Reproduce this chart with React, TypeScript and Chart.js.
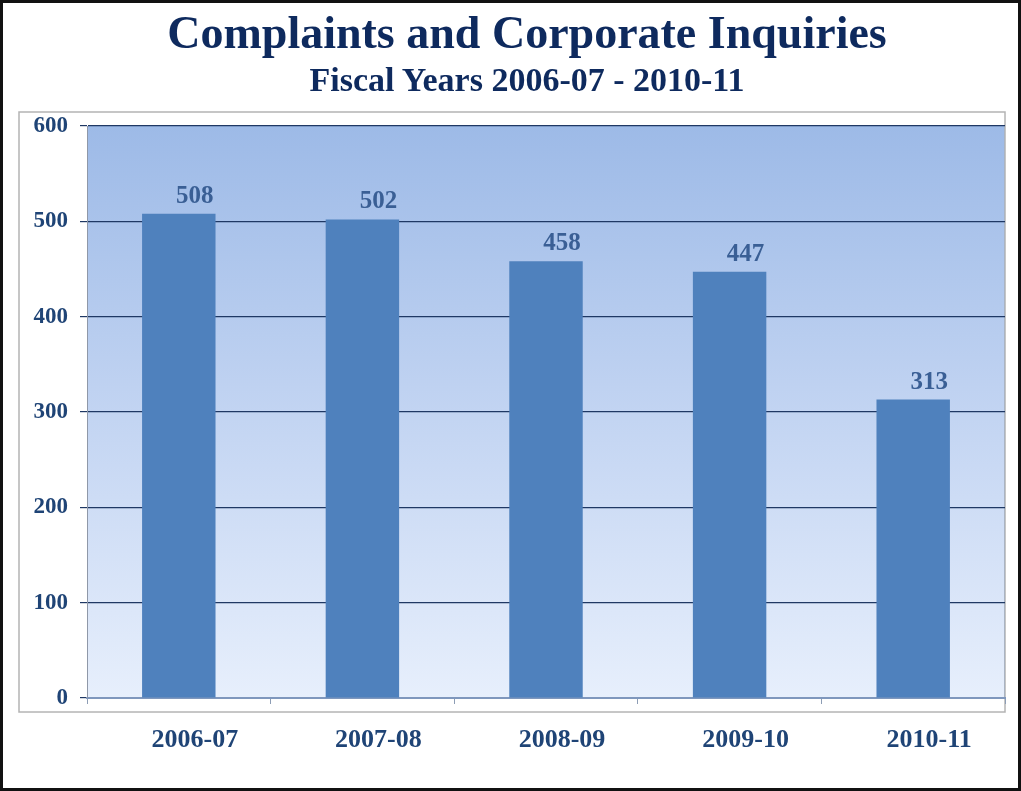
import React, { useEffect, useRef } from "react";
import { Chart, registerables } from "chart.js";

Chart.register(...registerables);

const categories = ["2006-07", "2007-08", "2008-09", "2009-10", "2010-11"];
const complaints = [508, 502, 458, 447, 313];
const titleText = "Complaints and Corporate Inquiries";
const subtitleText = "Fiscal Years 2006-07 - 2010-11";
const yMin = 0;
const yMax = 600;
const yStep = 100;

const LABEL_SHIFT = 16;
const SERIF = "'Liberation Serif', 'Times New Roman', serif";

const bgPlugin = {
  id: "bgPlugin",
  beforeDraw(chart: any) {
    const { ctx, chartArea } = chart;
    const { left, top, right, bottom } = chartArea;
    ctx.save();
    ctx.fillStyle = "#ffffff";
    ctx.fillRect(0, 0, chart.width, chart.height);
    // outer light gray frame
    ctx.strokeStyle = "#b4b4b4";
    ctx.lineWidth = 1.5;
    ctx.strokeRect(left - 68, top - 14, right - left + 68, bottom - top + 28);
    // gradient plot area
    const g = ctx.createLinearGradient(0, top, 0, bottom);
    g.addColorStop(0, "#9dbae7");
    g.addColorStop(0.5, "#c2d4f2");
    g.addColorStop(1, "#e7effc");
    ctx.fillStyle = g;
    ctx.fillRect(left, top, right - left, bottom - top);
    ctx.strokeStyle = "#a9b3c2";
    ctx.lineWidth = 1;
    ctx.beginPath();
    ctx.moveTo(right - 0.5, top);
    ctx.lineTo(right - 0.5, bottom);
    ctx.stroke();
    ctx.restore();
  },
};

const valueLabelPlugin = {
  id: "valueLabelPlugin",
  afterDatasetsDraw(chart: any) {
    const { ctx } = chart;
    const meta = chart.getDatasetMeta(0);
    const data = chart.data.datasets[0].data;
    ctx.save();
    ctx.font = `bold 25px ${SERIF}`;
    ctx.fillStyle = "#3a5f95";
    ctx.textAlign = "center";
    ctx.textBaseline = "alphabetic";
    meta.data.forEach((bar: any, i: number) => {
      ctx.fillText(String(data[i]), bar.x + LABEL_SHIFT, bar.y - 11);
    });
    ctx.restore();
  },
};

export default function App() {
  const canvasRef = useRef<HTMLCanvasElement>(null);

  useEffect(() => {
    document.body.style.margin = "0";
    const canvas = canvasRef.current;
    if (!canvas) return;
    const chart = new Chart(canvas, {
      type: "bar",
      data: {
        labels: categories,
        datasets: [
          {
            data: complaints,
            backgroundColor: "#4f81bd",
            borderWidth: 0,
            categoryPercentage: 1,
            barPercentage: 0.4,
          },
        ],
      },
      options: {
        responsive: false,
        animation: false,
        devicePixelRatio: 1,
        layout: { padding: { left: 0, right: 13, top: 123, bottom: 27 } },
        plugins: {
          legend: { display: false },
          tooltip: { enabled: false },
          title: { display: false },
        },
        scales: {
          x: {
            grid: {
              display: true,
              drawOnChartArea: false,
              drawTicks: true,
              tickLength: 6,
              color: "#8d9db5",
              offset: true,
            },
            border: { display: true, color: "#7f97bd", width: 2 },
            ticks: {
              color: "#1f4476",
              font: { family: SERIF, size: 26, weight: "bold" },
              padding: 21,
              labelOffset: LABEL_SHIFT,
              maxRotation: 0,
            },
            afterFit(scale: any) {
              scale.height = 63;
            },
          },
          y: {
            min: yMin,
            max: yMax,
            grid: {
              color: "#1f3864",
              lineWidth: 1.2,
              tickLength: 7,
              drawTicks: true,
            },
            border: { display: true, color: "#8f98a8", width: 1 },
            ticks: {
              stepSize: yStep,
              color: "#1f4476",
              font: { family: SERIF, size: 23, weight: "bold" },
              padding: 12,
            },
            afterFit(scale: any) {
              scale.width = 84;
            },
          },
        },
      },
      plugins: [bgPlugin, valueLabelPlugin],
    });
    return () => chart.destroy();
  }, []);

  const textBase: React.CSSProperties = {
    position: "absolute",
    left: 0,
    width: 1015,
    boxSizing: "border-box",
    paddingLeft: 33,
    textAlign: "center",
    fontFamily: SERIF,
    fontWeight: "bold",
    color: "#0e2a5e",
    whiteSpace: "nowrap",
    margin: 0,
  };

  return (
    <div
      style={{
        position: "absolute",
        left: 0,
        top: 0,
        width: 1021,
        height: 791,
        boxSizing: "border-box",
        border: "3px solid #111",
        background: "#fff",
        overflow: "hidden",
      }}
    >
      <canvas
        ref={canvasRef}
        width={1015}
        height={785}
        style={{ display: "block", width: 1015, height: 785 }}
      />
      <div style={{ ...textBase, top: 2, fontSize: 46, lineHeight: "55.2px" }}>{titleText}</div>
      <div style={{ ...textBase, top: 57, fontSize: 34, lineHeight: "40.8px" }}>{subtitleText}</div>
    </div>
  );
}
